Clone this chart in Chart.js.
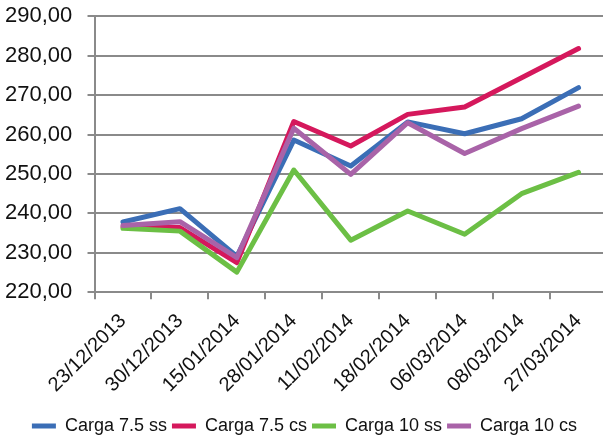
<!DOCTYPE html>
<html>
<head>
<meta charset="utf-8">
<script src="https://cdn.jsdelivr.net/npm/chart.js@4/dist/chart.umd.min.js"></script>
<style>
  html, body { margin: 0; padding: 0; background: #fff; overflow: hidden; }
  #wrap { position: relative; width: 608px; height: 440px; }
</style>
</head>
<body>
<div id="wrap"><canvas id="chart"></canvas></div>
<script>
"use strict";

// Data
const labels = ['23/12/2013', '30/12/2013', '15/01/2014', '28/01/2014', '11/02/2014',
                '18/02/2014', '06/03/2014', '08/03/2014', '27/03/2014'];
const carga75ss = [237.8, 241.2, 229.1, 258.6, 252.0, 263.2, 260.2, 264.0, 271.9];
const carga75cs = [236.6, 236.4, 227.5, 263.3, 257.1, 265.1, 267.0, 274.4, 281.8];
const carga10ss = [236.2, 235.5, 225.1, 251.0, 233.2, 240.6, 234.7, 245.0, 250.4];
const carga10cs = [236.9, 237.9, 228.8, 261.6, 249.9, 263.0, 255.2, 261.5, 267.2];
const yTicks = [220, 230, 240, 250, 260, 270, 280, 290];

const FONT = "'Liberation Sans', Arial, sans-serif";
const GRID = '#8a8a8a';

const series = (label, data, color, order) => ({
    label: label,
    data: data,
    borderColor: color,
    backgroundColor: color,
    borderWidth: 5,
    pointRadius: 0,
    pointHoverRadius: 0,
    pointStyle: 'line',
    tension: 0,
    fill: false,
    borderCapStyle: 'round',
    borderJoinStyle: 'round',
    order: order
});

const ctx = document.getElementById('chart').getContext('2d');
new Chart(ctx, {
    type: 'line',
    data: {
        labels: labels,
        datasets: [
            series('Carga 7.5 ss', carga75ss, '#3b6eb6', 3),
            series('Carga 7.5 cs', carga75cs, '#d5185c', 2),
            series('Carga 10 ss', carga10ss, '#6cbf45', 1),
            series('Carga 10 cs', carga10cs, '#a963a8', 0)
        ]
    },
    options: {
        responsive: true,
        maintainAspectRatio: false,
        animation: false,
        layout: { padding: { top: 0, left: 2, right: 1, bottom: -5 } },
        plugins: {
            legend: {
                position: 'bottom',
                labels: {
                    font: { family: FONT, size: 18 },
                    color: '#111',
                    usePointStyle: true,
                    pointStyleWidth: 24,
                    boxHeight: 5,
                    padding: 5,
                    sort: (a, b) => a.datasetIndex - b.datasetIndex
                }
            },
            tooltip: { enabled: false }
        },
        scales: {
            x: {
                offset: true,
                grid: {
                    offset: true,
                    drawOnChartArea: false,
                    drawTicks: true,
                    tickLength: 7,
                    color: GRID,
                    lineWidth: 2
                },
                border: { color: GRID, width: 2 },
                ticks: {
                    color: '#111',
                    font: { family: FONT, size: 20 },
                    maxRotation: 45,
                    minRotation: 45,
                    autoSkip: false,
                    padding: 10
                },
                afterFit: (axis) => { axis.height += 5; }
            },
            y: {
                min: 220,
                max: 290,
                afterBuildTicks: (axis) => { axis.ticks = yTicks.map(v => ({ value: v })); },
                grid: {
                    color: GRID,
                    lineWidth: 2,
                    drawTicks: true,
                    tickLength: 7
                },
                border: { color: GRID, width: 2 },
                ticks: {
                    color: '#111',
                    font: { family: FONT, size: 22 },
                    padding: 3,
                    // trailing spaces keep the gap to the tick marks without inflating the top padding
                    callback: (v) => v.toFixed(2).replace('.', ',') + '  '
                }
            }
        }
    }
});
</script>
</body>
</html>
